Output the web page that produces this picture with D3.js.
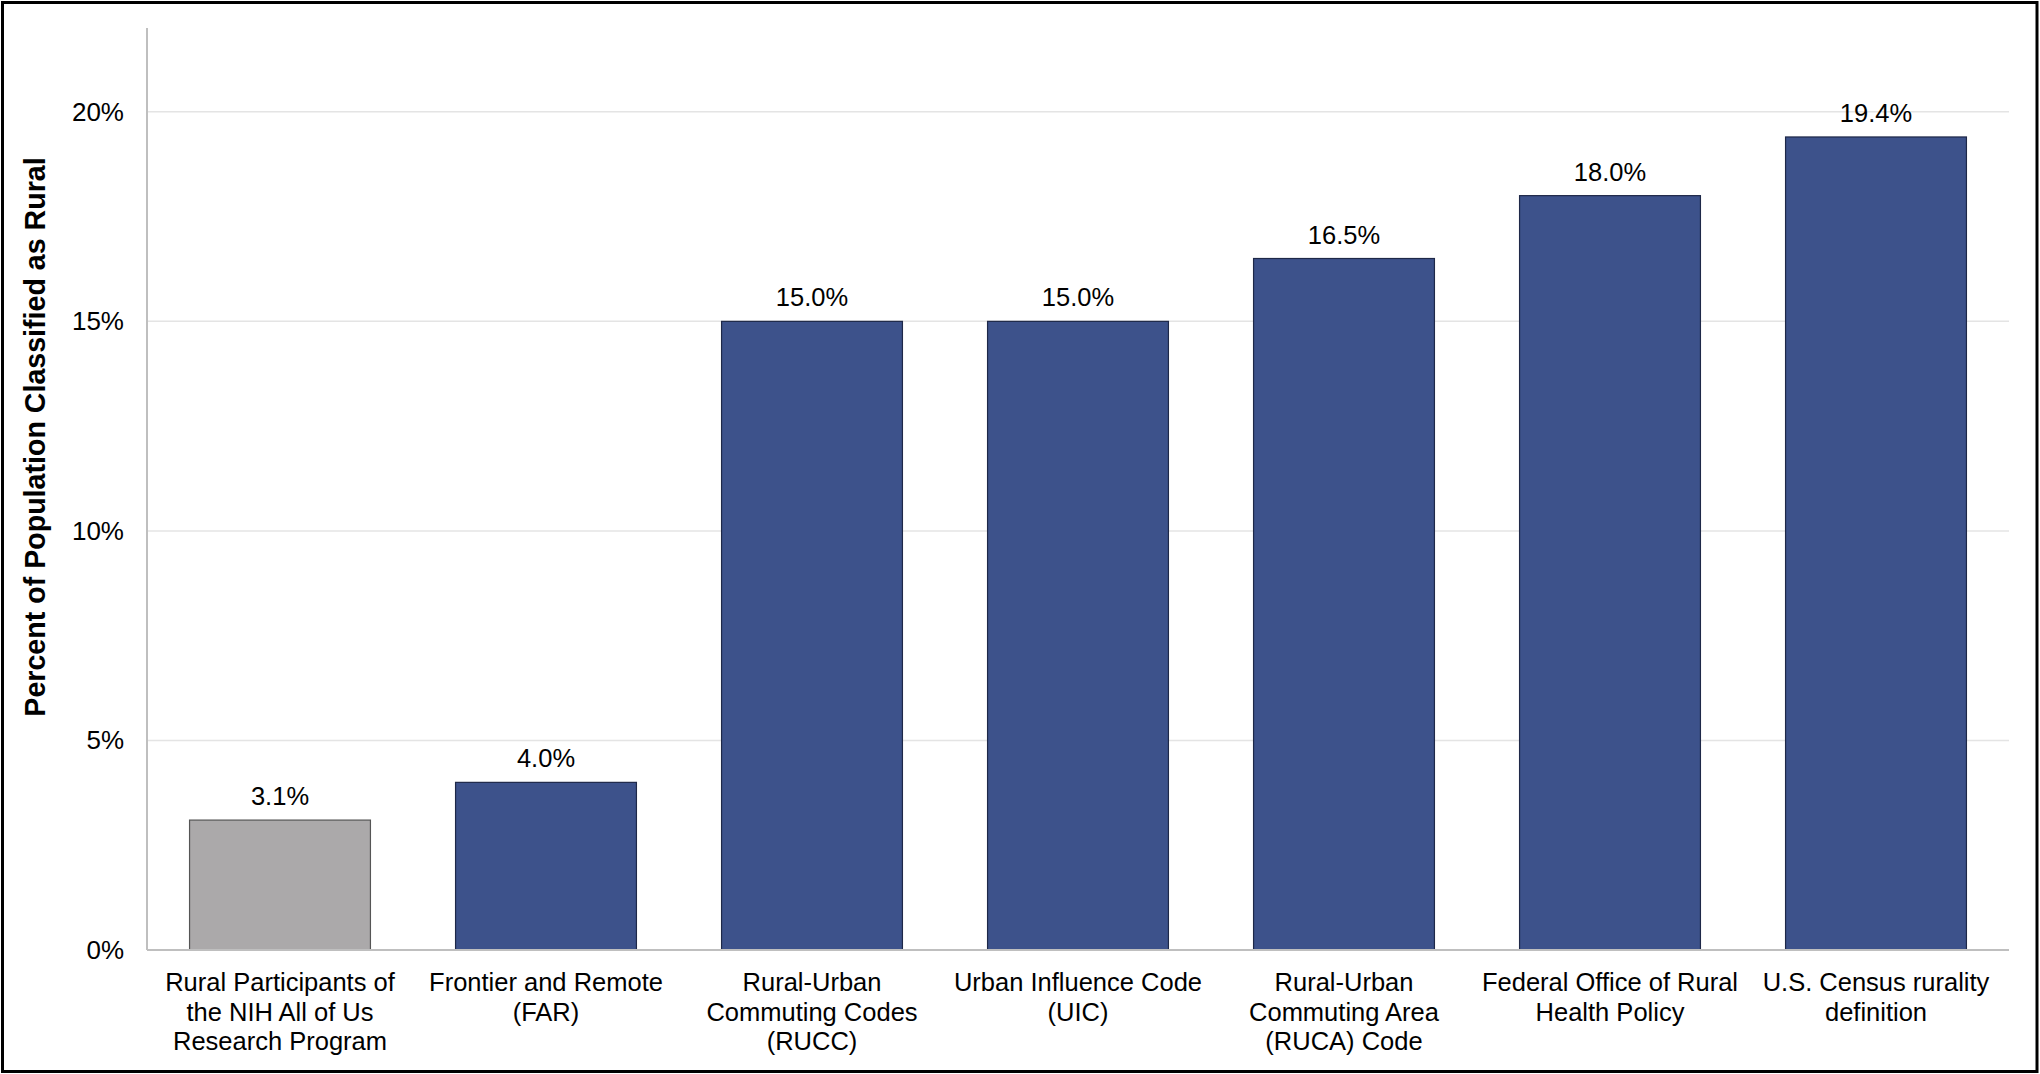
<!DOCTYPE html>
<html>
<head>
<meta charset="utf-8">
<script src="https://cdn.jsdelivr.net/npm/d3@7/dist/d3.min.js"></script>
<style>
html,body{margin:0;padding:0;background:#fff;}
svg{display:block;}
text{font-family:"Liberation Sans",Arial,sans-serif;fill:#000;}
</style>
</head>
<body>
<svg id="chart" width="2040" height="1074"></svg>
<script>
const categories = [
  ["Rural Participants of", "the NIH All of Us", "Research Program"],
  ["Frontier and Remote", "(FAR)"],
  ["Rural-Urban", "Commuting Codes", "(RUCC)"],
  ["Urban Influence Code", "(UIC)"],
  ["Rural-Urban", "Commuting Area", "(RUCA) Code"],
  ["Federal Office of Rural", "Health Policy"],
  ["U.S. Census rurality", "definition"]
];
const values = [3.1, 4.0, 15.0, 15.0, 16.5, 18.0, 19.4];
const highlight = [true, false, false, false, false, false, false];
const yTicks = [0, 5, 10, 15, 20];
const yTitle = "Percent of Population Classified as Rural";

(function () {
const svg = d3.select("#chart");
const W = 2040, H = 1074;
const mLeft = 147, mRight = 2009, mTop = 28, mBottom = 950;

svg.append("rect").attr("x", 2.5).attr("y", 2.5).attr("width", W - 5.5).attr("height", H - 5)
  .attr("fill", "#fff").attr("stroke", "#000").attr("stroke-width", 3);

const x = d3.scaleBand().domain(d3.range(categories.length)).range([mLeft, mRight]).paddingInner(0.32).paddingOuter(0.16);
const y = d3.scaleLinear().domain([0, 22]).range([mBottom, mTop]);

// gridlines
svg.append("g").selectAll("line").data(yTicks.filter(d => d > 0)).join("line")
  .attr("x1", mLeft).attr("x2", mRight)
  .attr("y1", d => y(d)).attr("y2", d => y(d))
  .attr("stroke", "#e4e4e4").attr("stroke-width", 1.5);

// y axis
const yAxis = d3.axisLeft(y).tickValues(yTicks).tickFormat(d => d + "%").tickSize(0).tickPadding(23);
const gy = svg.append("g").attr("transform", `translate(${mLeft},0)`).call(yAxis);
gy.select(".domain").remove();
gy.selectAll("text").attr("font-size", 26).attr("font-family", "Liberation Sans, Arial, sans-serif").attr("fill", "#000");
svg.append("line").attr("x1", mLeft).attr("x2", mLeft).attr("y1", mTop).attr("y2", mBottom)
  .attr("stroke", "#bfbfbf").attr("stroke-width", 2);

// bars
svg.append("g").selectAll("rect").data(values).join("rect")
  .attr("x", (d, i) => x(i)).attr("width", x.bandwidth())
  .attr("y", d => y(d)).attr("height", d => y(0) - y(d))
  .attr("fill", (d, i) => highlight[i] ? "#aba9aa" : "#3d528b")
  .attr("stroke", (d, i) => highlight[i] ? "#555" : "#1e2848")
  .attr("stroke-width", 1.2);

// x axis line
svg.append("line").attr("x1", mLeft).attr("x2", mRight).attr("y1", mBottom).attr("y2", mBottom)
  .attr("stroke", "#bfbfbf").attr("stroke-width", 2);

// value labels
svg.append("g").selectAll("text").data(values).join("text")
  .attr("x", (d, i) => x(i) + x.bandwidth() / 2)
  .attr("y", d => y(d) - 15)
  .attr("text-anchor", "middle").attr("font-size", 25.5)
  .text(d => d.toFixed(1) + "%");

// category labels
const gc = svg.append("g");
categories.forEach((lines, i) => {
  const t = gc.append("text").attr("text-anchor", "middle").attr("font-size", 25.5)
    .attr("x", x(i) + x.bandwidth() / 2).attr("y", 991);
  lines.forEach((ln, j) => {
    t.append("tspan").attr("x", x(i) + x.bandwidth() / 2).attr("dy", j === 0 ? 0 : 29.5).text(ln);
  });
});

// y title
svg.append("text").attr("transform", `translate(45,437) rotate(-90)`)
  .attr("text-anchor", "middle").attr("font-size", 28.6).attr("font-weight", "bold")
  .text(yTitle);
})();
</script>
</body>
</html>
